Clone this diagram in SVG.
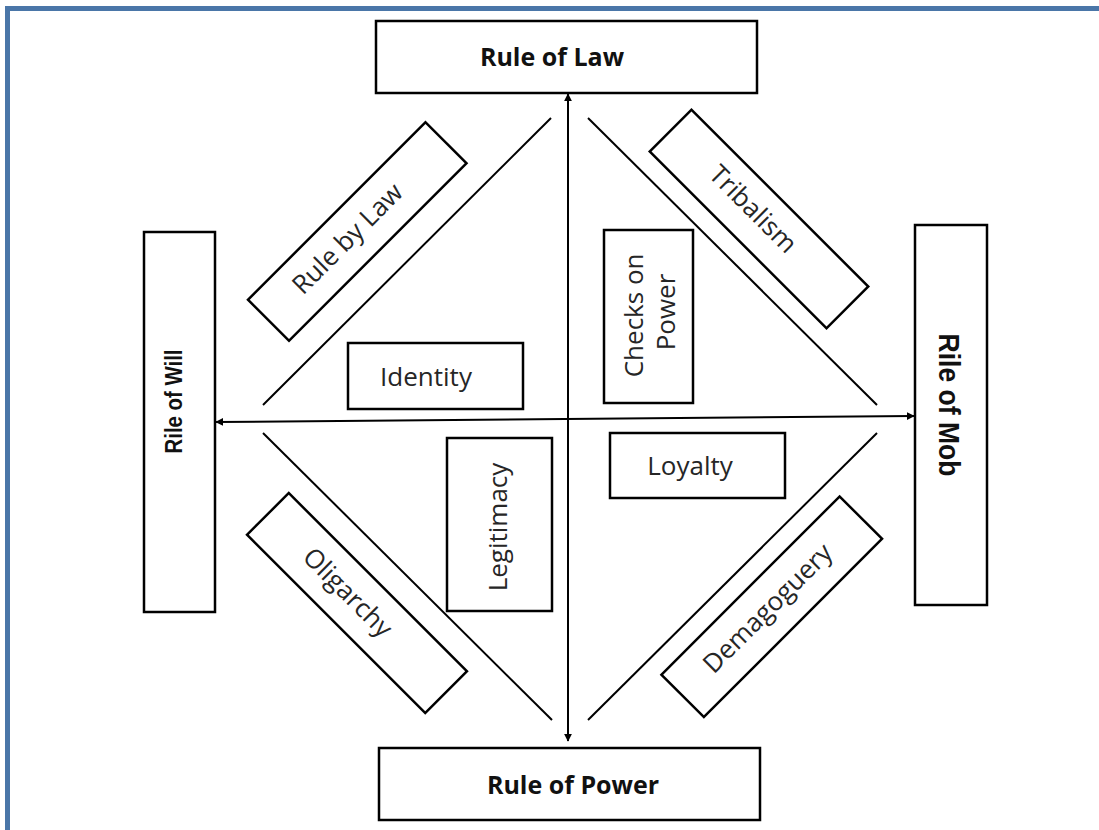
<svg xmlns="http://www.w3.org/2000/svg" width="1099" height="830" viewBox="0 0 1099 830">
  <style>
    .box { fill: #ffffff; stroke: #000000; stroke-width: 2.5; }
    .line { stroke: #000000; stroke-width: 2; fill: none; }
    .head { font-family: "Open Sans", "Liberation Sans", sans-serif; font-weight: 700; font-size: 25px; fill: #111111; text-anchor: middle; dominant-baseline: central; }
    .side { font-family: "Liberation Sans", Arial, sans-serif; font-weight: 700; fill: #111111; text-anchor: middle; }
    .lbl { font-family: "Open Sans", "Liberation Sans", sans-serif; font-size: 26px; fill: #262626; text-anchor: middle; dominant-baseline: central; }
  </style>
  <defs>
    <marker id="arrow" viewBox="0 0 10 10" refX="9" refY="5" markerWidth="8" markerHeight="8" markerUnits="userSpaceOnUse" orient="auto-start-reverse">
      <path d="M0,0 L10,5 L0,10 z" fill="#000000"/>
    </marker>
  </defs>

  <rect width="1099" height="830" fill="#ffffff"/>
  <!-- frame -->
  <path d="M7.5,830 V8.5 H1099" fill="none" stroke="#4A76A8" stroke-width="5"/>

  <!-- connectors: axes and diagonal dividers -->
  <g id="connectors">
    <line class="line" x1="568" y1="741" x2="568" y2="94" marker-start="url(#arrow)" marker-end="url(#arrow)"/>
    <line class="line" x1="216" y1="422" x2="914" y2="416" marker-start="url(#arrow)" marker-end="url(#arrow)"/>
    <line class="line" x1="263" y1="405" x2="551" y2="118"/>
    <line class="line" x1="588" y1="118" x2="877" y2="405"/>
    <line class="line" x1="263" y1="433" x2="552" y2="720" stroke-width="2.7"/>
    <line class="line" x1="588" y1="720" x2="877" y2="433"/>
  </g>

  <g id="rule-of-law">
    <rect class="box" x="376" y="21" width="381" height="72"/>
    <text class="head" x="552" y="56">Rule of Law</text>
  </g>
  <g id="rule-of-power">
    <rect class="box" x="379" y="748" width="381" height="72"/>
    <text class="head" x="573" y="784">Rule of Power</text>
  </g>
  <g id="rile-of-will">
    <rect class="box" x="144" y="232" width="71" height="380"/>
    <text class="side" font-size="24" textLength="104" lengthAdjust="spacingAndGlyphs" transform="translate(182,401.5) rotate(-90)">Rile of Will</text>
  </g>
  <g id="rile-of-mob">
    <rect class="box" x="915" y="225" width="72" height="380"/>
    <text class="side" font-size="30" textLength="143" lengthAdjust="spacingAndGlyphs" transform="translate(939,405) rotate(90)">Rile of Mob</text>
  </g>

  <g id="rule-by-law" transform="translate(357.25,231.5) rotate(-45)">
    <rect class="box" x="-125.5" y="-29" width="251" height="58"/>
    <text class="lbl" x="-12" y="-3">Rule by Law</text>
  </g>
  <g id="tribalism" transform="translate(759,219) rotate(45)">
    <rect class="box" x="-125" y="-29.5" width="250" height="59"/>
    <text class="lbl" x="-11" y="-4">Tribalism</text>
  </g>
  <g id="oligarchy" transform="translate(357,603) rotate(45)">
    <rect class="box" x="-126" y="-29.5" width="252" height="59"/>
    <text class="lbl" x="-14" y="-2">Oligarchy</text>
  </g>
  <g id="demagoguery" transform="translate(771.75,606.75) rotate(-45)">
    <rect class="box" x="-126" y="-30" width="252" height="60"/>
    <text class="lbl" x="-4" y="-3">Demagoguery</text>
  </g>

  <g id="checks-on-power">
    <rect class="box" x="604" y="230" width="89" height="173"/>
    <text class="lbl" transform="translate(648.5,312) rotate(-90)">
      <tspan x="0" y="-16">Checks on</tspan>
      <tspan x="0" y="16">Power</tspan>
    </text>
  </g>
  <g id="identity">
    <rect class="box" x="348" y="343" width="175" height="66"/>
    <text class="lbl" x="426" y="376">Identity</text>
  </g>
  <g id="legitimacy">
    <rect class="box" x="447" y="438" width="105" height="173"/>
    <text class="lbl" transform="translate(497,527) rotate(-90)">Legitimacy</text>
  </g>
  <g id="loyalty">
    <rect class="box" x="610" y="433" width="175" height="65"/>
    <text class="lbl" x="690" y="465">Loyalty</text>
  </g>
</svg>
